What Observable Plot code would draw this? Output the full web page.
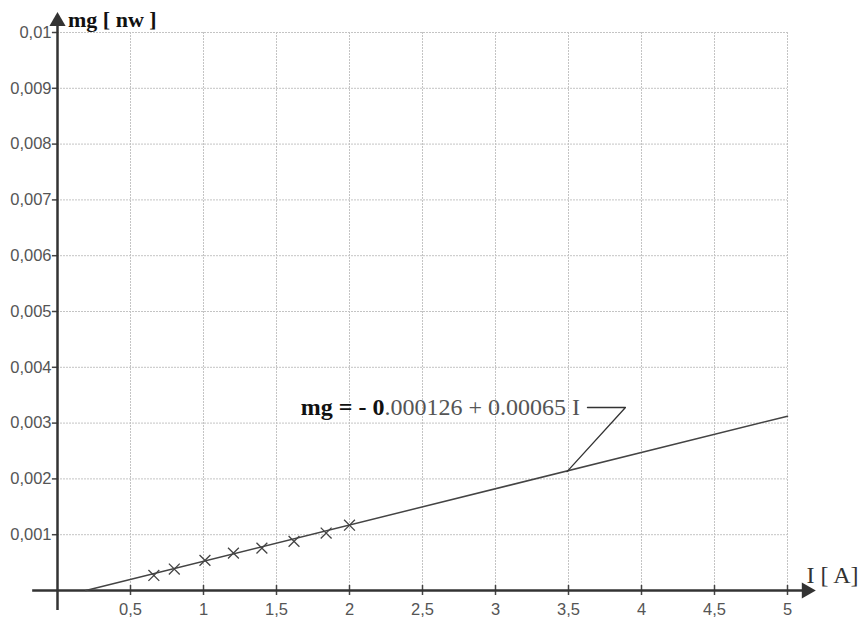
<!DOCTYPE html>
<html><head><meta charset="utf-8">
<script src="https://cdn.jsdelivr.net/npm/d3@7"></script>
<script src="https://cdn.jsdelivr.net/npm/@observablehq/plot@0.6"></script>
<style>body{margin:0;background:#fff} svg{display:block}</style>
</head><body><div id="chart"></div>
<script>
// Measured points: current I [A] and mg [N]
const currentA = [0.66, 0.80, 1.01, 1.205, 1.40, 1.62, 1.84, 2.0];
const weightN = [0.00027, 0.000385, 0.00054, 0.00067, 0.00076, 0.00088, 0.00103, 0.00117];
// Fitted line mg = -0.000126 + 0.00065 I (endpoints)
const fitX = [0.194, 5];
const fitY = [0, 0.003124];
// Ticks
const xTicks = [0.5, 1, 1.5, 2, 2.5, 3, 3.5, 4, 4.5, 5];
const xTickLabels = ["0,5", "1", "1,5", "2", "2,5", "3", "3,5", "4", "4,5", "5"];
const yTicks = [0.001, 0.002, 0.003, 0.004, 0.005, 0.006, 0.007, 0.008, 0.009, 0.01];
const yTickLabels = ["0,001", "0,002", "0,003", "0,004", "0,005", "0,006", "0,007", "0,008", "0,009", "0,01"];
// Axis extents (data units)
const xAxisExtent = [-0.17, 5.13];
const yAxisExtent = [-0.00036, 0.0102];
// Equation annotation
const eqBold = "mg = - 0";
const eqRest = ".000126 + 0.00065 I";
const eqAnchor = [2.24, 0.00314];
const leaderX = [3.63, 3.89, 3.49];
const leaderY = [0.00328, 0.00328, 0.00213];
// Axis titles
const yTitle = "mg [ nw ]";
const yTitlePos = [0.072, 0.0101];
const xTitle = "I [ A]";
const xTitlePos = [5.13, 0.00013];

const pts = currentA.map((x, i) => ({x, y: weightN[i]}));
const fit = fitX.map((x, i) => ({x, y: fitY[i]}));
const leader = leaderX.map((x, i) => ({x, y: leaderY[i]}));
const xFmt = d => xTickLabels[xTicks.indexOf(d)];
const yFmt = d => yTickLabels[yTicks.indexOf(d)];
const serif = "'Liberation Serif', 'Times New Roman', serif";

const chart = Plot.plot({
  width: 862,
  height: 620,
  marginLeft: 57,
  marginRight: 75,
  marginTop: 32,
  marginBottom: 30,
  style: {fontFamily: "'Liberation Sans', Arial, sans-serif", background: "#fff"},
  x: {domain: [0, 5], axis: null},
  y: {domain: [0, 0.01], axis: null},
  marks: [
    Plot.gridX(xTicks, {stroke: "#c4c4c4", strokeOpacity: 1, strokeDasharray: "2,1"}),
    Plot.gridY(yTicks, {stroke: "#c4c4c4", strokeOpacity: 1, strokeDasharray: "2,1"}),
    Plot.axisX({ticks: xTicks, tickFormat: xFmt, tickSize: 0, tickPadding: 13, fontSize: 16.5, fill: "#555", anchor: "bottom", label: null}),
    Plot.axisY({ticks: yTicks, tickFormat: yFmt, tickSize: 0, tickPadding: 6, fontSize: 16.5, fill: "#555", anchor: "left", label: null}),
    Plot.ruleX(xTicks, {y1: -0.00009, y2: 0.00009, stroke: "#444", strokeWidth: 1.5}),
    Plot.ruleY(yTicks, {x1: -0.035, x2: 0, stroke: "#444", strokeWidth: 1.5}),
    Plot.ruleY([0], {x1: xAxisExtent[0], x2: xAxisExtent[1], stroke: "#333", strokeWidth: 2.5}),
    Plot.ruleX([0], {y1: yAxisExtent[0], y2: yAxisExtent[1], stroke: "#333", strokeWidth: 2.5}),
    Plot.dot([{x: xAxisExtent[1], y: 0}], {x: "x", y: "y", symbol: "triangle", rotate: 90, r: 6, fill: "#333", stroke: "none"}),
    Plot.dot([{x: 0, y: yAxisExtent[1]}], {x: "x", y: "y", symbol: "triangle", rotate: 0, r: 6, fill: "#333", stroke: "none"}),
    Plot.line(fit, {x: "x", y: "y", stroke: "#444", strokeWidth: 1.5}),
    Plot.dot(pts, {x: "x", y: "y", symbol: "times", r: 5, stroke: "#444", strokeWidth: 1.3}),
    Plot.line(leader, {x: "x", y: "y", stroke: "#333", strokeWidth: 1.3}),
    Plot.text([eqBold], {x: eqAnchor[0], y: eqAnchor[1], textAnchor: "end", lineAnchor: "bottom", fontFamily: serif, fontWeight: "bold", fontSize: 24, fill: "#111"}),
    Plot.text([eqRest], {x: eqAnchor[0], y: eqAnchor[1], textAnchor: "start", lineAnchor: "bottom", fontFamily: serif, fontSize: 24, fill: "#555"}),
    Plot.text([yTitle], {x: yTitlePos[0], y: yTitlePos[1], textAnchor: "start", lineAnchor: "bottom", fontFamily: serif, fontWeight: "bold", fontSize: 22, fill: "#111"}),
    Plot.text([xTitle], {x: xTitlePos[0], y: xTitlePos[1], textAnchor: "start", lineAnchor: "bottom", fontFamily: serif, fontSize: 24, fill: "#333"})
  ]
});
document.getElementById("chart").appendChild(chart);
</script>
</body></html>
